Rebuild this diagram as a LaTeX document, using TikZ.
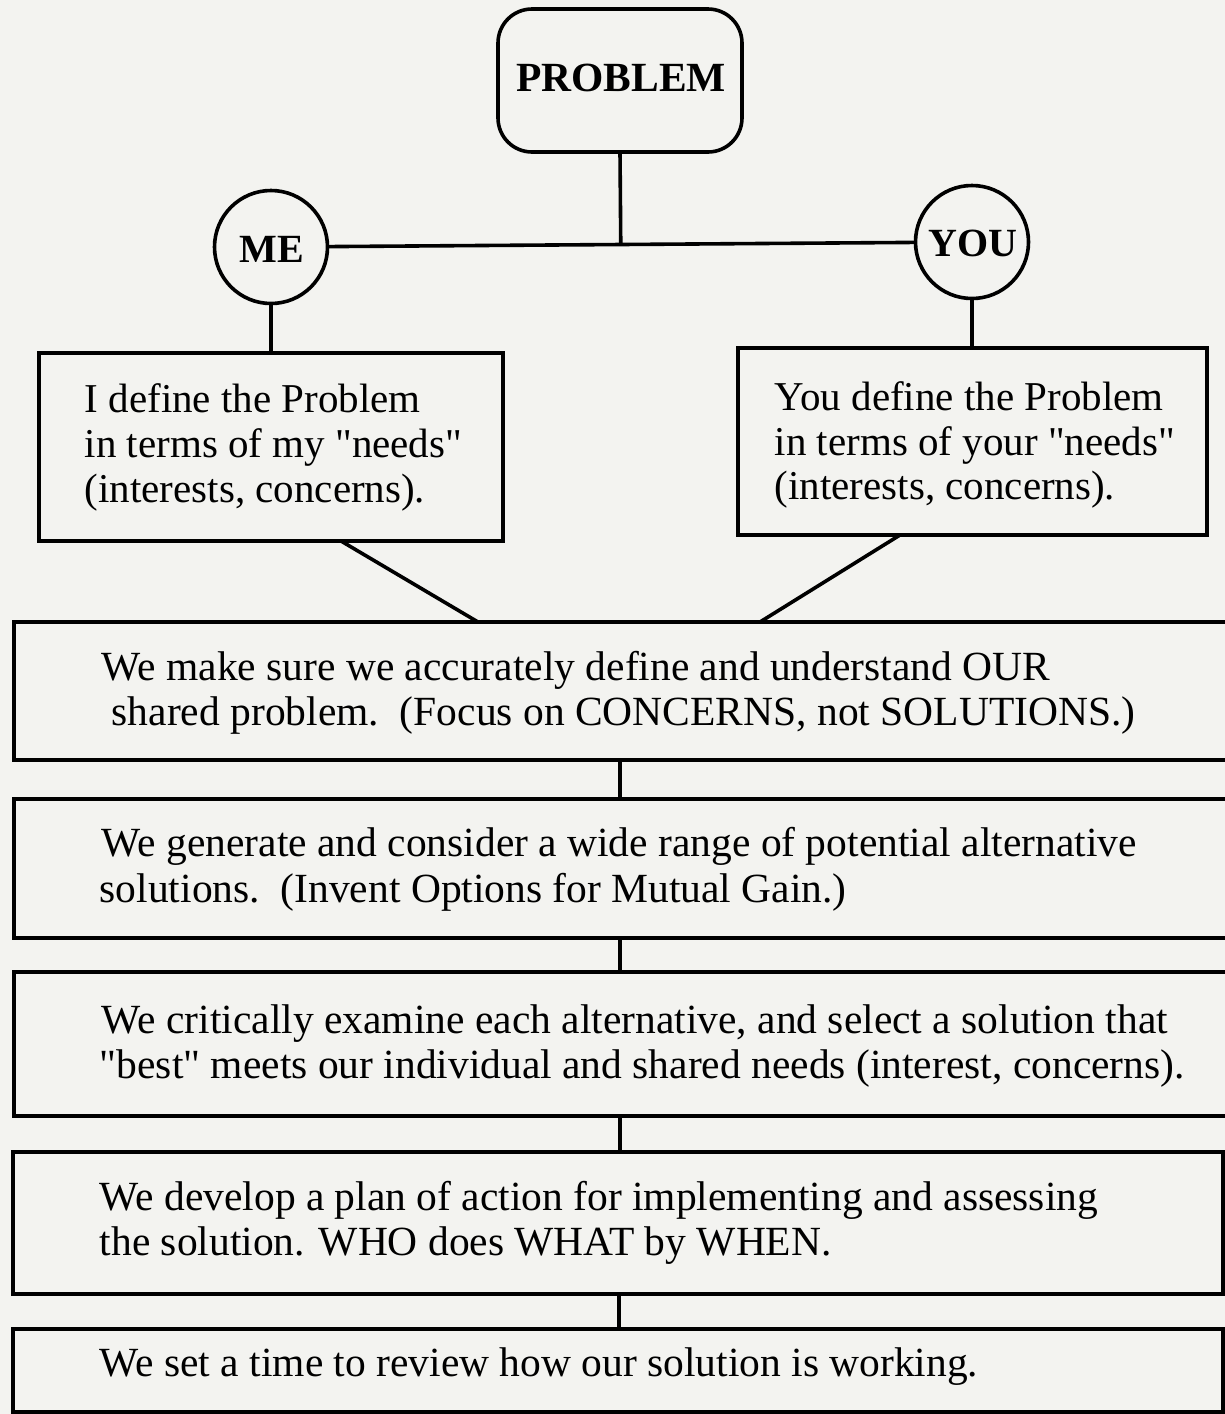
\documentclass[tikz,border=0pt]{standalone}
\usepackage{fontspec}
\setmainfont{Liberation Serif}[Ligatures=TeXOff]
\usetikzlibrary{calc}
\definecolor{paper}{RGB}{243,243,240}
\begin{document}
\begin{tikzpicture}[x=1pt,y=-1pt,line width=3.6pt,
  frame/.style={draw=black,rectangle,inner sep=0pt,outer sep=0pt,anchor=north west},
  bubble/.style={draw=black,circle,inner sep=0pt,outer sep=0pt,minimum size=113pt},
  boldlabel/.style={inner sep=0pt,anchor=base,font=\bfseries\fontsize{40}{44}\selectfont},
  txt/.style={inner sep=0pt,anchor=base west,font=\fontsize{41.5}{46}\selectfont},
  smalltxt/.style={txt,font=\fontsize{41}{46}\selectfont},
  link/.style={draw=black,line width=3.6pt}]
% page and paper
\fill[paper] (0,0) rectangle (1225,1414);
\useasboundingbox (0,0) rectangle (1225,1414);

% top: the problem, and the two parties
\node[draw=black,rounded corners=34pt,inner sep=0pt,outer sep=0pt,
      minimum width=244pt,minimum height=143pt,anchor=north west] (prob) at (498,9) {};
\node[boldlabel,font=\bfseries\fontsize{41.5}{44}\selectfont]
      (probtxt) at (621,91) {PROBLEM};
\node[bubble] (me) at (271,247) {};
\node[boldlabel] (metxt) at (272,262) {ME};
\node[bubble] (you) at (972,242) {};
\node[boldlabel] (youtxt) at (973,256) {YOU};

% each party's definition of the problem
\node[frame,minimum width=464pt,minimum height=188pt] (lb) at (39,353) {};
\node[smalltxt] (lb1) at (83,412) {I define the Problem};
\node[smalltxt] (lb2) at (83,457) {in terms of my "needs"};
\node[smalltxt] (lb3) at (83,502) {(interests, concerns).};

\node[frame,minimum width=469pt,minimum height=187pt] (rb) at (738,348) {};
\node[smalltxt] (rb1) at (773,410) {You define the Problem};
\node[smalltxt] (rb2) at (773,455) {in terms of your "needs"};
\node[smalltxt] (rb3) at (773,499) {(interests, concerns).};

% shared steps
\node[frame,minimum width=1230pt,minimum height=138pt] (s1) at (14,622) {};
\node[txt] (s1a) at (100,680) {We make sure we accurately define and understand OUR};
\node[txt] (s1b) at (110,725) {shared problem.\ \ (Focus on CONCERNS, not SOLUTIONS.)};

\node[frame,minimum width=1230pt,minimum height=139pt] (s2) at (14,799) {};
\node[txt] (s2a) at (100,856) {We generate and consider a wide range of potential alternative};
\node[txt] (s2b) at (98,902) {solutions.\ \ (Invent Options for Mutual Gain.)};

\node[frame,minimum width=1230pt,minimum height=144pt] (s3) at (14,972) {};
\node[txt] (s3a) at (100,1033) {We critically examine each alternative, and select a solution that};
\node[txt] (s3b) at (98,1078) {"best" meets our individual and shared needs (interest, concerns).};

\node[frame,minimum width=1210pt,minimum height=142pt] (s4) at (13,1152) {};
\node[txt] (s4a) at (98,1210) {We develop a plan of action for implementing and assessing};
\node[txt] (s4b) at (98,1255) {the solution. WHO does WHAT by WHEN.};

\node[frame,minimum width=1210pt,minimum height=83pt] (s5) at (13,1329) {};
\node[txt] (s5a) at (98,1376) {We set a time to review how our solution is working.};

% connectors
\draw[link] (me) -- (you);
\draw[link] (prob.south) -- ($(me.east)!(prob.south)!(you.west)$);
\draw[link] (me.south) -- (me.south |- lb.north);
\draw[link] (you.south) -- (you.south |- rb.north);
\draw[link] ($(lb.south west)+(302,0)$) -- ($(s1.north west)+(464,0)$);
\draw[link] ($(rb.south west)+(162,0)$) -- ($(s1.north west)+(746,0)$);
\draw[link] ($(s1.south west)+(606,0)$) -- ($(s2.north west)+(606,0)$);
\draw[link] ($(s2.south west)+(606,0)$) -- ($(s3.north west)+(606,0)$);
\draw[link] ($(s3.south west)+(606,0)$) -- ($(s4.north west)+(607,0)$);
\draw[link] ($(s4.south west)+(606,0)$) -- ($(s5.north west)+(606,0)$);
\end{tikzpicture}
\end{document}
